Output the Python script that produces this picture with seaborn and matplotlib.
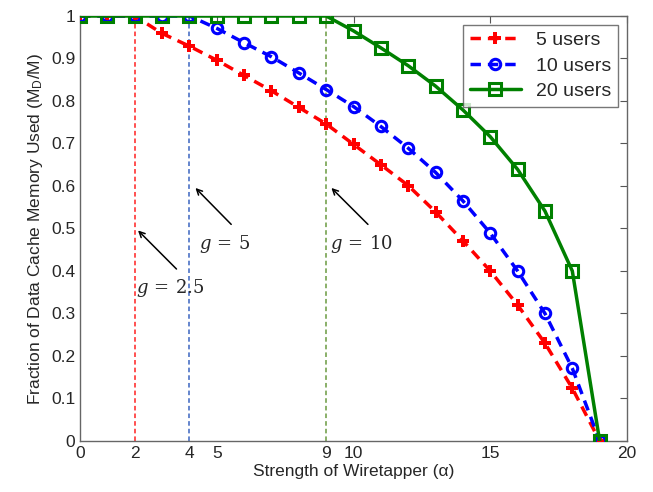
import matplotlib
matplotlib.use('Agg')
import matplotlib.pyplot as plt
import seaborn as sns

alpha = list(range(20))
users5 = [1, 1, 1, 0.959, 0.929, 0.896, 0.860, 0.824, 0.785, 0.746,
          0.698, 0.650, 0.601, 0.539, 0.471, 0.400, 0.320, 0.230, 0.124, 0]
users10 = [1, 1, 1, 1, 1, 0.971, 0.937, 0.904, 0.866, 0.827,
           0.787, 0.740, 0.689, 0.632, 0.565, 0.489, 0.400, 0.300, 0.171, 0]
users20 = [1, 1, 1, 1, 1, 1, 1, 1, 1, 1,
           0.965, 0.925, 0.883, 0.835, 0.779, 0.716, 0.639, 0.541, 0.400, 0]
xticks = [0, 2, 4, 5, 9, 10, 15, 20]
yticks = [0, 0.1, 0.2, 0.3, 0.4, 0.5, 0.6, 0.7, 0.8, 0.9, 1]
ytick_labels = ['0', '0.1', '0.2', '0.3', '0.4', '0.5', '0.6', '0.7', '0.8', '0.9', '1']
vlines_x = [2, 4, 9]
vlines_c = ['#ff2020', '#3a64c0', '#6a9a40']
notes = ['$g\\,=\\,2.5$', '$g\\,=\\,5$', '$g\\,=\\,10$']
note_xy = [(2.05, 0.5), (4.15, 0.6), (9.12, 0.6)]
note_tail = [(3.6, 0.40), (5.6, 0.505), (10.6, 0.505)]
note_text = [(2.05, 0.36), (4.35, 0.463), (9.15, 0.463)]

sns.set_style('white')
plt.rcParams['font.family'] = ['Liberation Sans', 'DejaVu Sans']
plt.rcParams['mathtext.fontset'] = 'dejavuserif'

fig = plt.figure(figsize=(6.53, 4.92), dpi=100)
ax = fig.add_axes([0.1225, 0.1037, 0.8377, 0.8638])

for x, c in zip(vlines_x, vlines_c):
    ax.plot([x, x], [0, 1], color=c, linestyle=(0, (3, 2)), linewidth=1.1, zorder=1)

sns.lineplot(x=alpha, y=users5, ax=ax, color='#ff0000', linestyle=(0, (3, 2)),
             linewidth=2.5, marker='P', markersize=8.5, markeredgewidth=0,
             label='5 users', zorder=3)
sns.lineplot(x=alpha, y=users10, ax=ax, color='#0000ff', linestyle=(0, (3, 2)),
             linewidth=2.5, marker='o', markersize=7.5, markerfacecolor='none',
             markeredgewidth=2.2, markeredgecolor='#0000ff', label='10 users', zorder=4)
sns.lineplot(x=alpha, y=users20, ax=ax, color='#008000', linestyle='-',
             linewidth=2.5, marker='s', markersize=8, markerfacecolor='none',
             markeredgewidth=2.2, markeredgecolor='#008000', label='20 users', zorder=5)

for txt, xy, tail, tpos in zip(notes, note_xy, note_tail, note_text):
    ax.annotate('', xy=xy, xytext=tail,
                arrowprops=dict(arrowstyle='->', color='black', lw=1.1))
    ax.text(tpos[0], tpos[1], txt, fontsize=13, va='center', ha='left')

ax.set_xlim(0, 20)
ax.set_ylim(0, 1)
ax.set_xticks(xticks)
ax.set_yticks(yticks)
ax.set_yticklabels(ytick_labels)
ax.tick_params(direction='in', length=5, width=0.8, color='#555555',
               labelsize=12.5, top=True, right=True)
for s in ax.spines.values():
    s.set_color('#666666')
    s.set_linewidth(1.0)
ax.set_xlabel('Strength of Wiretapper (\u03b1)', fontsize=12.5, labelpad=2)
ax.set_ylabel('Fraction of Data Cache Memory Used (M$_\\mathregular{D}$/M)', fontsize=12.5, labelpad=4)

leg = ax.legend(loc='upper right', fontsize=14, frameon=True, fancybox=False,
                handlelength=2.6, borderpad=0.35, labelspacing=0.4,
                bbox_to_anchor=(1.0, 1.0), borderaxespad=0.45)
leg.get_frame().set_edgecolor('#555555')
leg.get_frame().set_linewidth(1.0)

fig.savefig('out.png', dpi=100)
